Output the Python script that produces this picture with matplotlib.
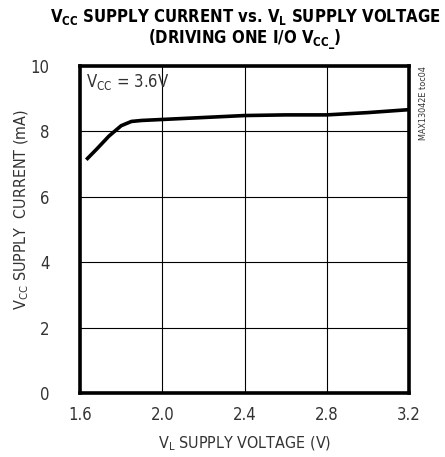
import matplotlib
matplotlib.use("Agg")
import matplotlib.pyplot as plt

plt.rcParams['font.family'] = ['DejaVu Sans']
plt.rcParams['font.stretch'] = 'condensed'
plt.rcParams['mathtext.default'] = 'regular'

# curve
vl = [1.63, 1.68, 1.74, 1.80, 1.85, 1.90, 2.0, 2.2, 2.4, 2.6, 2.8, 3.0, 3.2]
icc = [7.13, 7.45, 7.85, 8.17, 8.30, 8.33, 8.36, 8.42, 8.48, 8.50, 8.50, 8.57, 8.66]

xticks = [1.6, 2.0, 2.4, 2.8, 3.2]
yticks = [0, 2, 4, 6, 8, 10]

fig = plt.figure(figsize=(4.45, 4.57), dpi=100)
ax = fig.add_axes([0.18, 0.14, 0.739, 0.716])

ax.plot(vl, icc, color='black', lw=2.6, solid_capstyle='butt')
ax.set_xlim(1.6, 3.2)
ax.set_ylim(0, 10)
ax.set_xticks(xticks)
ax.set_xticklabels(['%.1f' % t for t in xticks])
ax.set_yticks(yticks)
ax.grid(True, color='black', lw=0.8)
ax.tick_params(length=0, labelsize=12, colors='#333333')
ax.tick_params(axis='x', pad=9)
ax.tick_params(axis='y', pad=22)
for s in ax.spines.values():
    s.set_linewidth(2.6)

ax.set_xlabel('$V_L$ SUPPLY VOLTAGE (V)', fontsize=11.5, color='#333333')
ax.xaxis.set_label_coords(0.5, -0.128)
ax.set_ylabel('$V_{CC}$ SUPPLY  CURRENT (mA)', fontsize=11.5, color='#333333')
ax.yaxis.set_label_coords(-0.15, 0.56)
ax.text(1.63, 9.5, '$V_{CC}$ = 3.6V', fontsize=12, va='center', ha='left', color='#333333')

fig.text(0.551, 0.985, '$V_{CC}$ SUPPLY CURRENT vs. $V_L$ SUPPLY VOLTAGE\n(DRIVING ONE I/O $V_{CC\\_}$)',
         ha='center', va='top', fontsize=12, fontweight='bold', linespacing=1.05)
fig.text(0.952, 0.855, 'MAX13042E toc04', rotation=90, ha='center', va='top', fontsize=6.5,
         color='#333333')

fig.savefig('out.png', dpi=100)
